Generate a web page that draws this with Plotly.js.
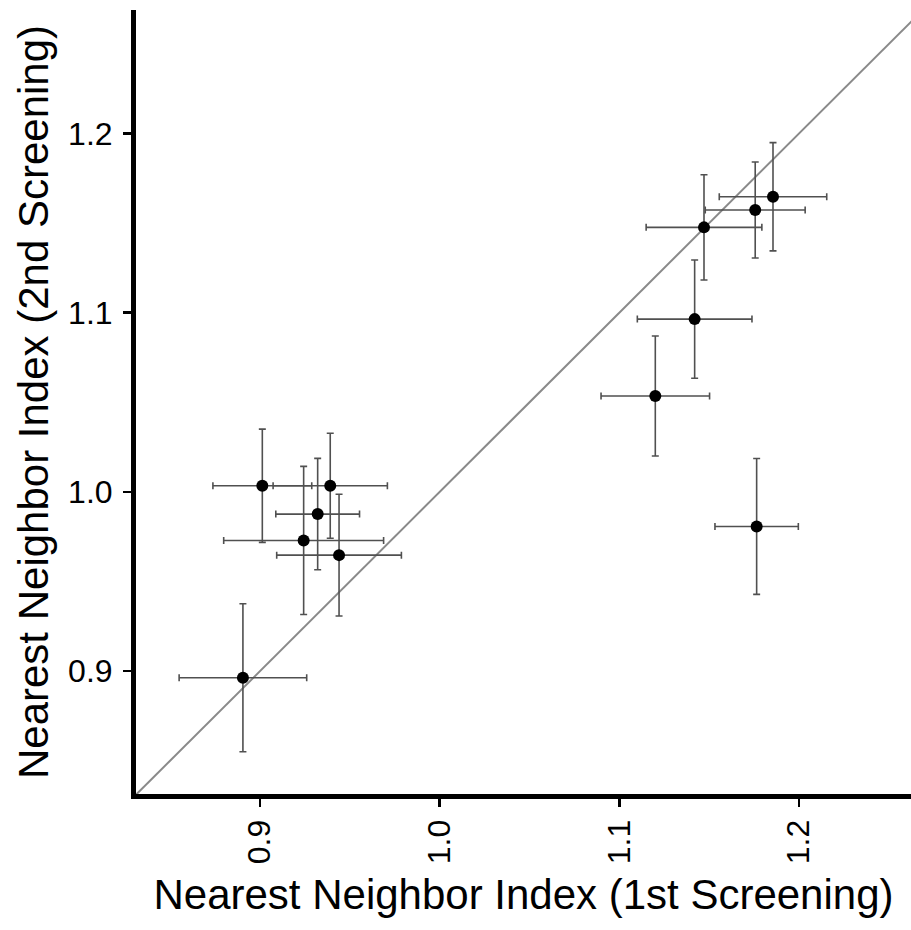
<!DOCTYPE html>
<html>
<head>
<meta charset="utf-8">
<script src="https://cdn.plot.ly/plotly-3.0.1.min.js"></script>
<style>
  html, body { margin: 0; padding: 0; background: #ffffff; }
  #chart { width: 911px; height: 930px; }
</style>
</head>
<body>
<div id="chart"></div>
<script>
// Nearest Neighbor Index, 1st screening (x) vs 2nd screening (y), with symmetric error bars
var nniFirst  = [0.9013, 0.9391, 0.9321, 0.9243, 0.9440, 0.8905, 1.1855, 1.1756, 1.1471, 1.1419, 1.1200, 1.1764];
var errFirst  = [0.0275, 0.0318, 0.0233, 0.0445, 0.0347, 0.0355, 0.0299, 0.0278, 0.0322, 0.0319, 0.0302, 0.0232];
var nniSecond = [1.0034, 1.0034, 0.9876, 0.9729, 0.9647, 0.8963, 1.1647, 1.1573, 1.1476, 1.0964, 1.0535, 0.9807];
var errSecond = [0.0316, 0.0293, 0.0311, 0.0413, 0.0340, 0.0413, 0.0302, 0.0268, 0.0294, 0.0330, 0.0335, 0.0379];

// identity reference line (y = x)
var identityLine = [0.80, 1.30];

var tickValues = [0.9, 1.0, 1.1, 1.2];
var tickLabels = ['0.9', '1.0', '1.1', '1.2'];

var xTitle = 'Nearest Neighbor Index (1st Screening)';
var yTitle = 'Nearest Neighbor Index (2nd Screening)';

var FONT = 'Liberation Sans, Arial, sans-serif';

var traces = [
  {
    type: 'scatter', mode: 'lines',
    x: identityLine, y: identityLine,
    line: { color: '#8a8a8a', width: 2 },
    hoverinfo: 'skip', showlegend: false
  },
  {
    type: 'scatter', mode: 'markers',
    x: nniFirst, y: nniSecond,
    marker: { color: '#000000', size: 12 },
    error_x: { type: 'data', array: errFirst, visible: true, color: '#505050', thickness: 1.6, width: 3.5 },
    error_y: { type: 'data', array: errSecond, visible: true, color: '#505050', thickness: 1.6, width: 3.5 },
    showlegend: false
  }
];

var axisCommon = {
  showgrid: false, zeroline: false,
  showline: true, linecolor: '#000000', linewidth: 5,
  ticks: 'outside', ticklen: 8, tickwidth: 2.5, tickcolor: '#000000',
  tickvals: tickValues, ticktext: tickLabels,
  tickfont: { family: FONT, size: 32, color: '#000000' },
  automargin: false
};

var layout = {
  width: 911, height: 930,
  margin: { l: 136, r: 0, t: 10, b: 136, pad: 0 },
  paper_bgcolor: '#ffffff', plot_bgcolor: '#ffffff',
  showlegend: false,
  xaxis: Object.assign({}, axisCommon, {
    range: [0.8310, 1.2623],
    tickangle: -90,
    title: { text: xTitle, font: { family: FONT, size: 42, color: '#000000' }, standoff: 18 }
  }),
  yaxis: Object.assign({}, axisCommon, {
    range: [0.8314, 1.2689],
    ticklabelstandoff: 4,
    title: { text: yTitle, font: { family: FONT, size: 42, color: '#000000' }, standoff: 8 }
  })
};

Plotly.newPlot('chart', traces, layout, { displayModeBar: false, staticPlot: true });
</script>
</body>
</html>
